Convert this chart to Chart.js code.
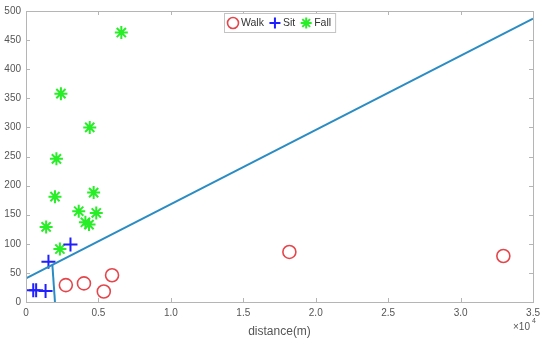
<!DOCTYPE html>
<html>
<head>
<meta charset="utf-8">
<script src="https://cdn.jsdelivr.net/npm/chart.js@4.4.0/dist/chart.umd.min.js"></script>
<style>
  body { margin: 0; background: #fff; }
  #wrap { width: 545px; height: 340px; position: relative; }
</style>
</head>
<body>
<div id="wrap"><canvas id="chart"></canvas></div>
<script>
// distance values are in units of 10^4 m (axis shows x10^4)
var walkX = [0.275, 0.40, 0.537, 0.594, 1.818, 3.295];
var walkY = [29, 32, 18, 46, 86, 79];

var sitX = [0.05, 0.07, 0.135, 0.155, 0.307];
var sitY = [20, 20, 19, 69, 99];

var fallX = [0.658, 0.241, 0.44, 0.21, 0.20, 0.467, 0.364, 0.485, 0.139, 0.41, 0.435, 0.234];
var fallY = [463, 358, 300, 246, 181, 188, 156, 153, 129, 137, 133, 91];

// decision boundaries
var boundX = [0, 3.5];
var boundY = [40.5, 487];
var splitX = [0.182, 0.2];
var splitY = [64, 0];

var xTicks = [0, 0.5, 1, 1.5, 2, 2.5, 3, 3.5];
var yTicks = [0, 50, 100, 150, 200, 250, 300, 350, 400, 450, 500];

var legendNames = ["Walk", "Sit", "Fall"];

function toPoints(xs, ys) {
  var pts = [];
  for (var i = 0; i < xs.length; i++) pts.push({ x: xs[i], y: ys[i] });
  return pts;
}

var lineColor = "#2b8cc3";
var axisColor = "#b5b5b5";
var textColor = "#555555";

var walkStyle = { pointStyle: "circle", radius: 6.5, borderWidth: 1.6, color: "#e4464b" };
var sitStyle = { pointStyle: "cross", radius: 7, borderWidth: 2, color: "#1f1fff" };
var fallStyle = { pointStyle: "star", radius: 6.5, borderWidth: 2, color: "#27ee27" };

function drawMarker(ctx, st, x, y, r) {
  ctx.save();
  ctx.strokeStyle = st.color;
  ctx.fillStyle = "rgba(0,0,0,0)";
  ctx.lineWidth = st.borderWidth;
  Chart.helpers.drawPoint(ctx, { pointStyle: st.pointStyle, radius: r, borderWidth: st.borderWidth, rotation: 0 }, x, y);
  ctx.restore();
}

// frame, inward ticks, legend box and the x10^4 note
var matlabAxes = {
  id: "matlabAxes",
  afterDraw: function (chart) {
    var ctx = chart.ctx;
    var a = chart.chartArea;
    var xs = chart.scales.x, ys = chart.scales.y;
    ctx.save();
    ctx.strokeStyle = axisColor;
    ctx.lineWidth = 1;
    ctx.strokeRect(Math.round(a.left) + 0.5, Math.round(a.top) + 0.5,
      Math.round(a.right - a.left), Math.round(a.bottom - a.top));
    ctx.beginPath();
    xTicks.forEach(function (v) {
      var px = Math.round(xs.getPixelForValue(v)) + 0.5;
      ctx.moveTo(px, a.bottom); ctx.lineTo(px, a.bottom - 4);
      ctx.moveTo(px, a.top); ctx.lineTo(px, a.top + 4);
    });
    yTicks.forEach(function (v) {
      var py = Math.round(ys.getPixelForValue(v)) + 0.5;
      ctx.moveTo(a.left, py); ctx.lineTo(a.left + 4, py);
      ctx.moveTo(a.right, py); ctx.lineTo(a.right - 4, py);
    });
    ctx.stroke();

    // x10^4
    ctx.fillStyle = textColor;
    ctx.textBaseline = "middle";
    ctx.textAlign = "left";
    ctx.font = "10px 'Liberation Sans', Arial, sans-serif";
    ctx.fillText("\u00d710", 513, 327);
    ctx.font = "7px 'Liberation Sans', Arial, sans-serif";
    ctx.fillText("4", 532, 321);

    // legend
    var styles = [walkStyle, sitStyle, fallStyle];
    ctx.font = "10.5px 'Liberation Sans', Arial, sans-serif";
    var widths = legendNames.map(function (n) { return ctx.measureText(n).width; });
    var total = 0;
    widths.forEach(function (w) { total += 16 + w + 3; });
    total += 2;
    var bx = Math.round((a.left + a.right) / 2 - total / 2);
    var by = Math.round(a.top) + 2;
    var bh = 19;
    ctx.fillStyle = "#ffffff";
    ctx.fillRect(bx, by, total, bh);
    ctx.strokeStyle = "#c4c4c4";
    ctx.strokeRect(bx + 0.5, by + 0.5, total, bh);
    var cx = bx + 2;
    var cy = by + bh / 2 + 0.5;
    for (var i = 0; i < legendNames.length; i++) {
      drawMarker(ctx, styles[i], cx + 7, cy, 5.5);
      ctx.fillStyle = "#333333";
      ctx.textAlign = "left";
      ctx.textBaseline = "middle";
      ctx.fillText(legendNames[i], cx + 15, cy);
      cx += 16 + widths[i] + 3;
    }
    ctx.restore();
  }
};

var tickFont = { family: "'Liberation Sans', Arial, sans-serif", size: 10 };

new Chart(document.getElementById("chart"), {
  type: "scatter",
  data: {
    datasets: [
      {
        label: "boundary",
        data: toPoints(boundX, boundY),
        showLine: true,
        borderColor: lineColor,
        borderWidth: 2,
        pointRadius: 0
      },
      {
        label: "split",
        data: toPoints(splitX, splitY),
        showLine: true,
        borderColor: lineColor,
        borderWidth: 2,
        pointRadius: 0
      },
      {
        label: "Walk",
        data: toPoints(walkX, walkY),
        pointStyle: walkStyle.pointStyle,
        pointRadius: walkStyle.radius,
        pointBorderWidth: walkStyle.borderWidth,
        pointBorderColor: walkStyle.color,
        pointBackgroundColor: "rgba(0,0,0,0)"
      },
      {
        label: "Sit",
        data: toPoints(sitX, sitY),
        pointStyle: sitStyle.pointStyle,
        pointRadius: sitStyle.radius,
        pointBorderWidth: sitStyle.borderWidth,
        pointBorderColor: sitStyle.color,
        pointBackgroundColor: sitStyle.color
      },
      {
        label: "Fall",
        data: toPoints(fallX, fallY),
        pointStyle: fallStyle.pointStyle,
        pointRadius: fallStyle.radius,
        pointBorderWidth: fallStyle.borderWidth,
        pointBorderColor: fallStyle.color,
        pointBackgroundColor: fallStyle.color
      }
    ]
  },
  options: {
    responsive: true,
    maintainAspectRatio: false,
    animation: false,
    layout: { padding: { left: 0, right: 7, top: 10, bottom: 0 } },
    plugins: {
      legend: { display: false },
      tooltip: { enabled: false }
    },
    scales: {
      x: {
        type: "linear",
        min: 0,
        max: 3.5,
        grid: { display: false, drawTicks: false },
        border: { display: false },
        ticks: {
          stepSize: 0.5,
          padding: 5,
          color: textColor,
          font: tickFont,
          maxRotation: 0,
          autoSkip: false
        },
        title: {
          display: true,
          text: "distance(m)",
          color: textColor,
          font: { family: "'Liberation Sans', Arial, sans-serif", size: 12 },
          padding: { top: 0, bottom: 1 }
        },
        afterFit: function (s) { s.height = 38; }
      },
      y: {
        type: "linear",
        min: 0,
        max: 500,
        grid: { display: false, drawTicks: false },
        border: { display: false },
        ticks: {
          stepSize: 50,
          padding: 5,
          color: textColor,
          font: tickFont,
          autoSkip: false
        },
        afterFit: function (s) { s.width = 26; }
      }
    }
  },
  plugins: [matlabAxes]
});
</script>
</body>
</html>
